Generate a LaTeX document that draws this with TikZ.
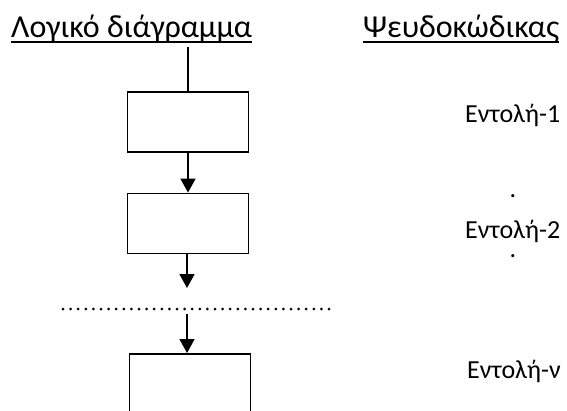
\documentclass[tikz,border=0pt]{standalone}
\usepackage{fontspec}
\setmainfont{Carlito}
\usetikzlibrary{positioning}
\usetikzlibrary{arrows.meta}

\tikzset{
  block/.style={draw, line width=1.6pt, minimum width=121pt, minimum height=60pt, inner sep=0pt},
  flow/.style={line width=1.8pt, -{Triangle[length=14pt,width=15pt]}},
  heading/.style={font=\fontsize{32}{38}\selectfont, inner sep=0pt, anchor=base west},
  command/.style={font=\fontsize{26}{31}\selectfont, inner sep=0pt, anchor=base west},
}

\begin{document}
\begin{tikzpicture}[x=1pt, y=-1pt]
	% Page size of the drawing
	\useasboundingbox (0,0) rectangle (567,410);
	\clip (0,0) rectangle (567,410);

	% Column of the flow chart
	\def\colx{188}

	% Headings
	\node[heading] (logic) at (11,37) {Λογικό διάγραμμα};
	\node[heading] (pseudo) at (363,37) {Ψευδοκώδικας};
	\draw[line width=1.6pt] ([yshift=-5pt]logic.base west) -- ([yshift=-5pt]logic.base east);
	\draw[line width=1.6pt] ([yshift=-5pt]pseudo.base west) -- ([yshift=-5pt]pseudo.base east);

	% Boxes of the chart
	\node[block, anchor=north] (b1) at (\colx,91) {};
	\node[block, below=40pt of b1] (b2) {};
	\node[block, anchor=north, minimum height=80pt] (b3) at (\colx+2,353) {};

	\coordinate (top) at (\colx,47);
	\coordinate (tip2) at (\colx-1,288);
	\coordinate (gap) at (\colx-1,314);
	\coordinate (dl) at (63,309);
	\coordinate (dr) at (329,309);

	% Connectors
	\draw[line width=1.8pt] (top) -- (b1.north);
	\draw[flow] (b1.south) -- (b2.north);
	\draw[flow] (b2.south -| tip2) -- (tip2);
	\draw[flow] (gap) -- (gap |- b3.north);
	\draw[line width=3pt, line cap=round, dash pattern=on 0pt off 7.6pt] (dl) -- (dr);

	% Pseudocode lines
	\node[command] (c1) at (465,122) {Εντολή-1};
	\node[command] (c2) at (465,238) {Εντολή-2};
	\node[command] (cn) at (467,378) {Εντολή-ν};
	\foreach \y/\n in {197/1, 257/2} {
		\node[command, anchor=base] (dot\n) at (513,\y) {.};
	}
\end{tikzpicture}
\end{document}
